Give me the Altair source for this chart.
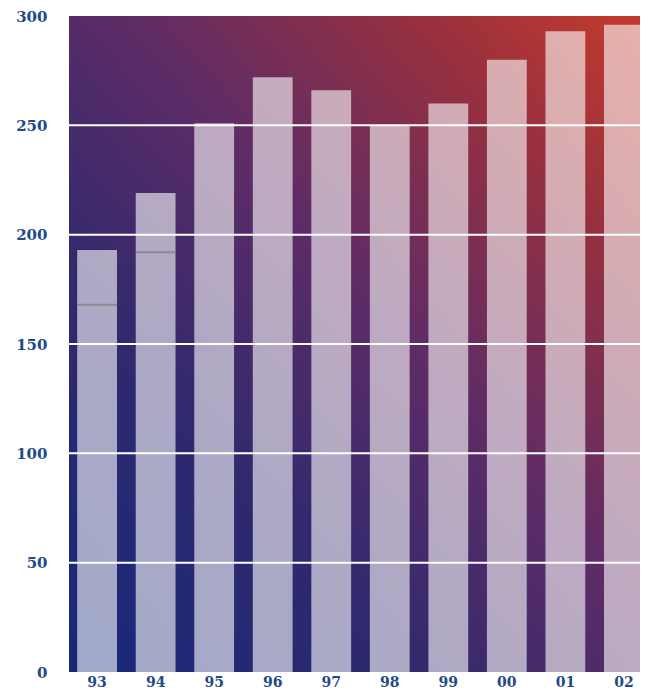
import altair as alt
import pandas as pd

years = ["93", "94", "95", "96", "97", "98", "99", "00", "01", "02"]
values = [193, 219, 251, 272, 266, 250, 260, 280, 293, 296]
marker_years = ["93", "94"]
marker_values = [168, 192]
grid_values = [50, 100, 150, 200, 250]

bars_df = pd.DataFrame({"year": years, "value": values})
marker_df = pd.DataFrame({"year": marker_years, "value": marker_values})
grid_df = pd.DataFrame({"value": grid_values})

LABEL_COLOR = "#1f4a87"
FONT = "DejaVu Serif"

# the plot runs past the right edge of the page (as in the original), so the
# band range is a little wider than the visible view
xscale = alt.Scale(domain=years, range=[0, 583], paddingInner=0.32, paddingOuter=0.14)
yscale = alt.Scale(domain=[0, 300], nice=False)

bg = alt.Chart(alt.Data(values=[{"a": 1}])).mark_rect(
    color=alt.Gradient(
        gradient="linear",
        x1=0, y1=1, x2=1, y2=0,
        stops=[
            alt.GradientStop(offset=0.0, color="#16287a"),
            alt.GradientStop(offset=0.3, color="#30296e"),
            alt.GradientStop(offset=0.55, color="#5e2c66"),
            alt.GradientStop(offset=0.8, color="#97303f"),
            alt.GradientStop(offset=1.0, color="#c43a2c"),
        ],
    )
).encode(
    x=alt.value(0), x2=alt.value("width"), y=alt.value(0), y2=alt.value("height")
)

bars = alt.Chart(bars_df).mark_bar(color="white", opacity=0.6).encode(
    x=alt.X("year:N", scale=xscale, sort=years,
            axis=alt.Axis(title=None, ticks=False, domain=False, labelAngle=0,
                          labelFont=FONT, labelFontWeight="bold", labelFontSize=14,
                          labelColor=LABEL_COLOR, labelPadding=3)),
    y=alt.Y("value:Q", scale=yscale,
            axis=alt.Axis(title=None, ticks=False, domain=False, grid=False,
                          values=[0, 50, 100, 150, 200, 250, 300],
                          labelFont=FONT, labelFontWeight="bold", labelFontSize=15,
                          labelColor=LABEL_COLOR, labelPadding=22)),
)

markers = alt.Chart(marker_df).mark_tick(color="#7c7c7c", thickness=2, size=40).encode(
    x=alt.X("year:N", scale=xscale, sort=years),
    y=alt.Y("value:Q", scale=yscale),
)

grid = alt.Chart(grid_df).mark_rule(color="white", strokeWidth=2).encode(
    y=alt.Y("value:Q", scale=yscale)
)

chart = alt.layer(bg, bars, markers, grid).properties(
    width=571, height=656,
    autosize=alt.AutoSizeParams(type="none"),
    padding={"left": 61, "top": 8, "right": 0, "bottom": 16},
    background="white",
).configure_view(stroke=None)

chart.save("out.html", embed_options={"renderer": "svg", "actions": False})
